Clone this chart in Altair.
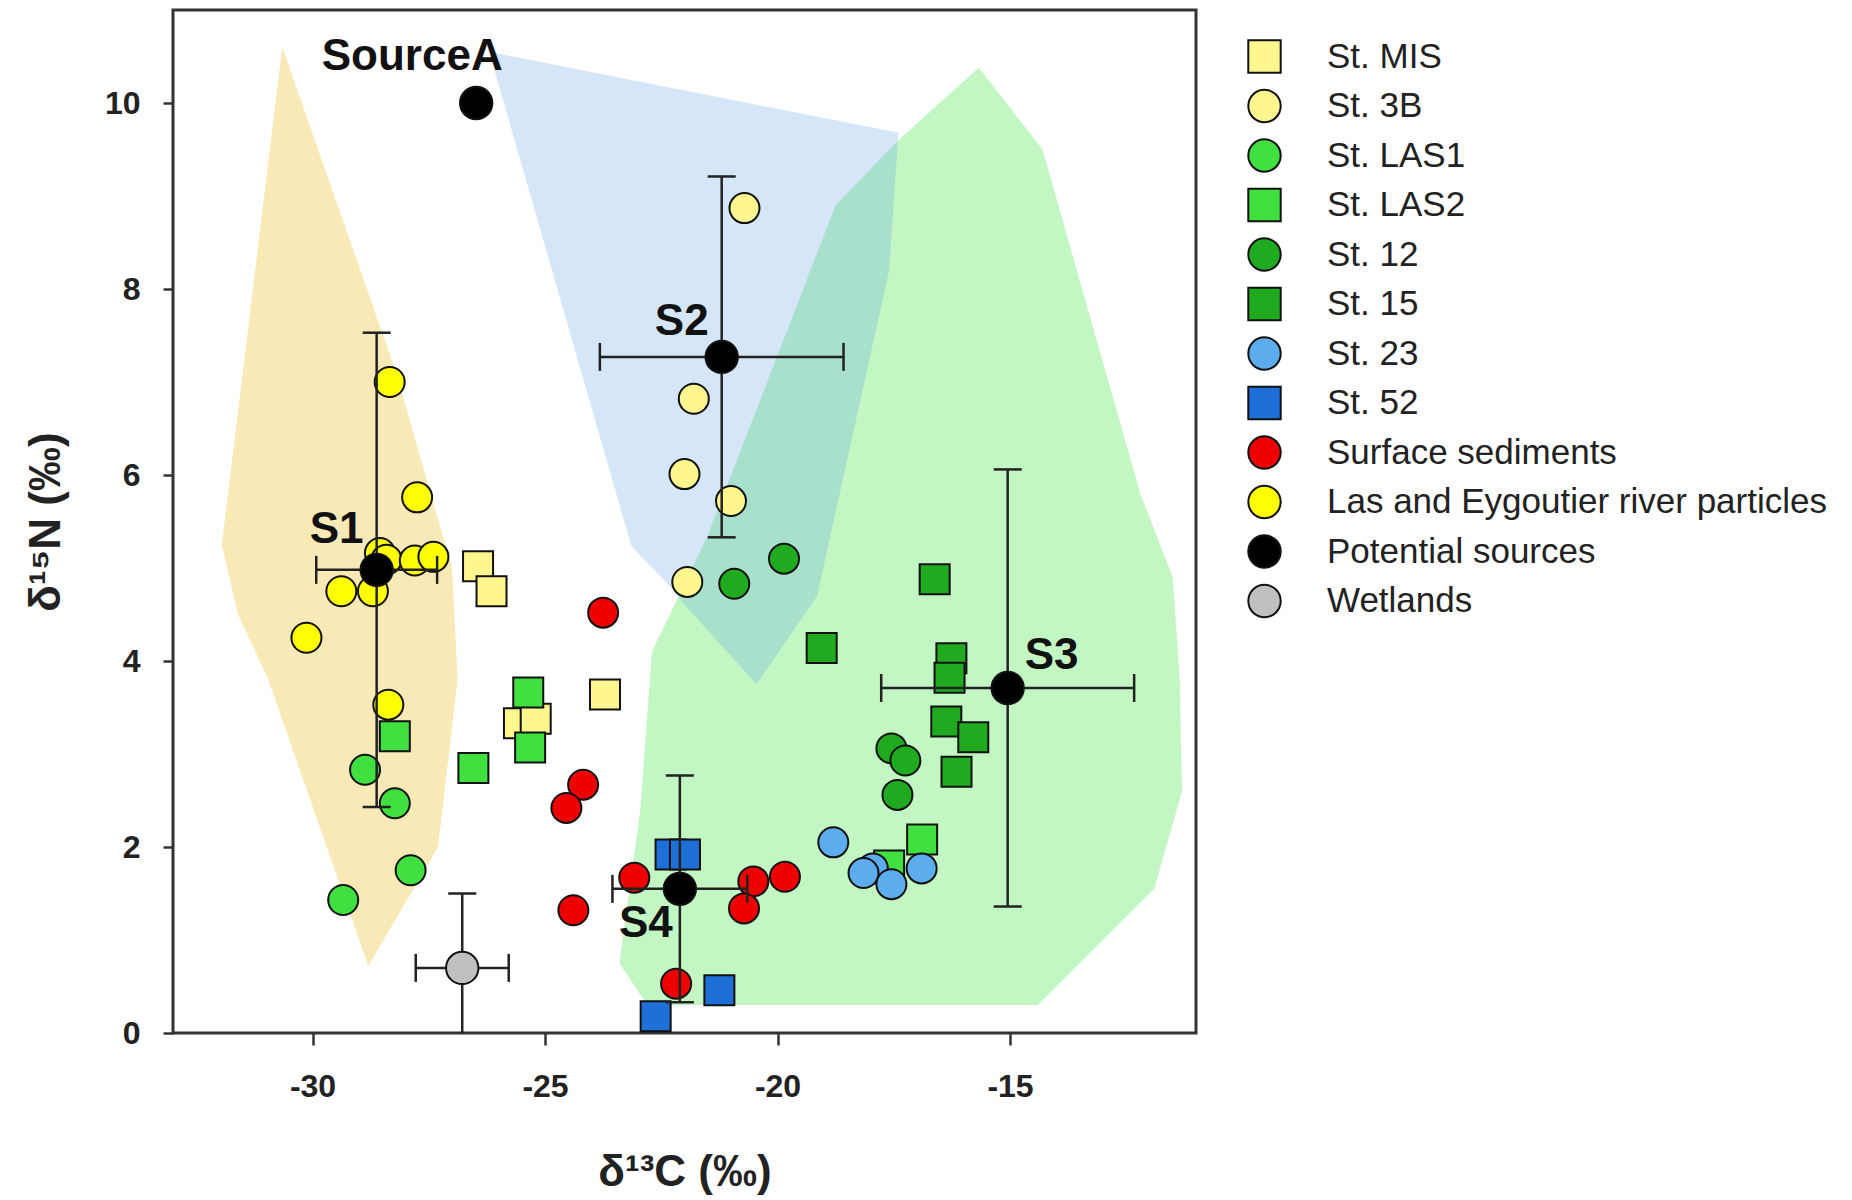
import altair as alt
import pandas as pd

FONT = "Liberation Sans"

# ---------------- legend / series definitions ----------------
series_names = ["St. MIS", "St. 3B", "St. LAS1", "St. LAS2", "St. 12", "St. 15",
                "St. 23", "St. 52", "Surface sediments",
                "Las and Eygoutier river particles", "Potential sources", "Wetlands"]
series_fill = ["#FFF68F", "#FFF68F", "#3FE03F", "#3FE03F", "#1FAA1F", "#1FAA1F",
               "#5DADEE", "#1F6FD8", "#EE0000", "#FFFF00", "#000000", "#C0C0C0"]
series_shape = ["square", "circle", "circle", "square", "circle", "square",
                "circle", "square", "circle", "circle", "circle", "circle"]
series_stroke = ["#111111"] * len(series_names)

# ---------------- sample data (d13C, d15N) ----------------
mis_x = [-26.44, -26.15, -23.71, -25.56, -25.20]
mis_y = [5.02, 4.75, 3.64, 3.33, 3.38]
st3b_x = [-20.71, -21.80, -22.00, -21.00, -21.94]
st3b_y = [8.87, 6.82, 6.01, 5.72, 4.85]
las1_x = [-28.87, -28.23, -27.89, -29.34]
las1_y = [2.83, 2.47, 1.75, 1.43]
las2_x = [-28.23, -26.54, -25.36, -25.32, -17.60, -16.89]
las2_y = [3.19, 2.85, 3.66, 3.07, 1.80, 2.08]
st12_x = [-19.86, -20.93, -17.55, -17.25, -17.42]
st12_y = [5.10, 4.83, 3.06, 2.93, 2.56]
st15_x = [-16.62, -19.05, -16.26, -16.30, -16.37, -15.79, -16.15]
st15_y = [4.88, 4.14, 4.03, 3.82, 3.35, 3.18, 2.81]
st23_x = [-18.80, -17.95, -18.15, -17.55, -16.90]
st23_y = [2.05, 1.77, 1.72, 1.60, 1.77]
st52_x = [-22.30, -21.99, -21.25, -22.62]
st52_y = [1.92, 1.92, 0.46, 0.18]
sed_x = [-23.75, -24.18, -24.54, -24.39, -23.08, -22.18, -20.52, -19.84, -20.72]
sed_y = [4.52, 2.67, 2.42, 1.32, 1.67, 0.53, 1.63, 1.68, 1.34]
riv_x = [-28.34, -27.75, -28.55, -28.41, -27.80, -27.40, -29.38, -28.70, -30.13, -28.37]
riv_y = [7.00, 5.76, 5.16, 5.09, 5.08, 5.12, 4.75, 4.75, 4.25, 3.53]

# potential sources (mean +/- sd)
src_names = ["SourceA", "S1", "S2", "S3", "S4"]
src_x = [-26.48, -28.62, -21.20, -15.05, -22.10]
src_y = [10.00, 4.98, 7.27, 3.71, 1.55]
src_ex = [0.0, 1.30, 2.62, 2.72, 1.45]
src_ey = [0.0, 2.55, 1.94, 2.35, 1.22]
# wetlands
wet_x = [-26.78]
wet_y = [0.70]
wet_ex = [1.00]
wet_ey = [0.80]

# hull polygons
yellow_hull_x = [-30.65, -28.20, -27.00, -26.88, -27.30, -28.80, -30.95, -31.60, -31.95]
yellow_hull_y = [10.60, 7.10, 5.00, 3.80, 2.00, 0.72, 3.80, 4.50, 5.25]
blue_hull_x = [-26.20, -17.40, -17.60, -19.15, -20.45, -21.90, -22.40, -23.14]
blue_hull_y = [10.55, 9.68, 8.20, 4.70, 3.75, 4.55, 4.85, 5.23]
green_hull_x = [-15.67, -14.30, -12.20, -11.50, -11.35, -11.30, -11.90, -14.40,
                -22.80, -23.40, -22.95, -22.70, -21.50, -18.75, -17.40]
green_hull_y = [10.38, 9.50, 5.80, 4.90, 3.80, 2.60, 1.55, 0.30,
                0.30, 0.75, 2.40, 4.10, 5.35, 8.90, 9.60]

x_ticks = [-30, -25, -20, -15]
y_ticks = [0, 2, 4, 6, 8, 10]

# ---------------- tables ----------------
sample_sets = [("St. MIS", mis_x, mis_y), ("St. 3B", st3b_x, st3b_y),
               ("St. LAS1", las1_x, las1_y), ("St. LAS2", las2_x, las2_y),
               ("St. 12", st12_x, st12_y), ("St. 15", st15_x, st15_y),
               ("St. 23", st23_x, st23_y), ("St. 52", st52_x, st52_y),
               ("Surface sediments", sed_x, sed_y),
               ("Las and Eygoutier river particles", riv_x, riv_y)]
rows = []
for name, xs, ys in sample_sets:
    for a, b in zip(xs, ys):
        rows.append({"series": name, "x": a, "y": b})
pts_df = pd.DataFrame(rows)

src_rows = [{"name": n, "series": "Potential sources", "x": a, "y": b, "ex": c, "ey": d}
            for n, a, b, c, d in zip(src_names, src_x, src_y, src_ex, src_ey)]
wet_rows = [{"name": "", "series": "Wetlands", "x": a, "y": b, "ex": c, "ey": d}
            for a, b, c, d in zip(wet_x, wet_y, wet_ex, wet_ey)]
mean_df = pd.DataFrame(src_rows + wet_rows)
src_df = pd.DataFrame(src_rows)

hull_rows = []
for g, xs, ys in [("yellow", yellow_hull_x, yellow_hull_y),
                  ("blue", blue_hull_x, blue_hull_y),
                  ("green", green_hull_x, green_hull_y)]:
    for i, (a, b) in enumerate(zip(xs, ys)):
        hull_rows.append({"group": g, "idx": i, "x": a, "y": b})
hull_df = pd.DataFrame(hull_rows)

# ---------------- scales ----------------
xs_ = alt.Scale(domain=[-33, -11], nice=False, zero=False)
ys_ = alt.Scale(domain=[0, 11], nice=False, zero=False)

x_axis = alt.Axis(values=x_ticks, title="δ¹³C (‰)", labelExpr="datum.value + ''",
                  tickSize=12, tickWidth=2.5, tickColor="#333", labelPadding=26,
                  titlePadding=48)
y_axis = alt.Axis(values=y_ticks, title="δ¹⁵N (‰)", labelExpr="datum.value + ''",
                  tickSize=10, tickWidth=2.5, tickColor="#333", labelPadding=23,
                  titlePadding=36)

X = alt.X("x:Q", scale=xs_, axis=x_axis)
Y = alt.Y("y:Q", scale=ys_, axis=y_axis)

fill_scale = alt.Scale(domain=series_names, range=series_fill)
shape_scale = alt.Scale(domain=series_names, range=series_shape)
stroke_scale = alt.Scale(domain=series_names, range=series_stroke)
leg = alt.Legend(title=None, orient="none", legendX=1074, legendY=29, padding=0,
                 labelFont=FONT, labelFontSize=35, labelColor="#222", labelLimit=0,
                 labelOffset=45, symbolSize=1050, symbolStrokeColor="#111",
                 symbolStrokeWidth=2, rowPadding=8.5, symbolOpacity=1)

base_h = alt.Chart(hull_df)
green_hull = base_h.transform_filter(alt.datum.group == "green").mark_line(
    interpolate="linear-closed", fill="#C2F6C2", strokeOpacity=0).encode(
    x=X, y=Y, order="idx:Q")
yellow_hull = base_h.transform_filter(alt.datum.group == "yellow").mark_line(
    interpolate="linear-closed", fill="#F8E9B6", strokeOpacity=0).encode(
    x=X, y=Y, order="idx:Q")
blue_hull = base_h.transform_filter(alt.datum.group == "blue").mark_line(
    interpolate="linear-closed", fill="#70ACE4", fillOpacity=0.3, strokeOpacity=0).encode(
    x=X, y=Y, order="idx:Q")


def point_enc(ch):
    return ch.encode(
        x=X, y=Y,
        fill=alt.Fill("series:N", scale=fill_scale, legend=leg),
        shape=alt.Shape("series:N", scale=shape_scale, legend=leg),
        stroke=alt.Stroke("series:N", scale=stroke_scale, legend=leg),
        strokeWidth=alt.value(2))


samples = point_enc(alt.Chart(pts_df).mark_point(filled=True, size=900, opacity=1))

err_base = alt.Chart(mean_df).transform_filter(alt.datum.ex > 0).transform_calculate(
    xlo="datum.x - datum.ex", xhi="datum.x + datum.ex",
    ylo="datum.y - datum.ey", yhi="datum.y + datum.ey")
vrule = err_base.mark_rule(color="#222", strokeWidth=2.5, clip=True).encode(
    x=X, y=alt.Y("ylo:Q", scale=ys_), y2="yhi:Q")
hrule = err_base.mark_rule(color="#222", strokeWidth=2.5, clip=True).encode(
    y=Y, x=alt.X("xlo:Q", scale=xs_), x2="xhi:Q")
cap_lo = err_base.mark_tick(orient="horizontal", size=28, thickness=2.5, color="#222",
                            clip=True, opacity=1).encode(
    x=X, y=alt.Y("ylo:Q", scale=ys_))
cap_hi = err_base.mark_tick(orient="horizontal", size=28, thickness=2.5, color="#222",
                            clip=True, opacity=1).encode(
    x=X, y=alt.Y("yhi:Q", scale=ys_))
cap_l = err_base.mark_tick(orient="vertical", size=28, thickness=2.5, color="#222",
                           clip=True, opacity=1).encode(
    x=alt.X("xlo:Q", scale=xs_), y=Y)
cap_r = err_base.mark_tick(orient="vertical", size=28, thickness=2.5, color="#222",
                           clip=True, opacity=1).encode(
    x=alt.X("xhi:Q", scale=xs_), y=Y)

means = point_enc(alt.Chart(mean_df).mark_point(filled=True, size=1050, opacity=1))

label_offsets = {"SourceA": (-64, -46), "S1": (-40, -40), "S2": (-40, -35),
                 "S3": (44, -32), "S4": (-34, 35)}
labels = []
for n in src_names:
    dx, dy = label_offsets[n]
    labels.append(alt.Chart(src_df).transform_filter(alt.datum.name == n).mark_text(
        font=FONT, fontSize=44, fontWeight="bold", color="#111", align="center",
        baseline="middle", dx=dx, dy=dy).encode(x=X, y=Y, text="name:N"))

chart = alt.layer(green_hull, yellow_hull, blue_hull, samples, vrule, hrule,
                  cap_lo, cap_hi, cap_l, cap_r, means, *labels).properties(
    width=1023, height=1023,
    autosize=alt.AutoSizeParams(type="none"),
    padding={"left": 173, "top": 10, "right": 656, "bottom": 167},
    background="white",
).configure_view(stroke="#333", strokeWidth=3).configure_axis(
    grid=False, domain=False, labelFont=FONT, labelFontSize=32, labelFontWeight="bold",
    labelColor="#222", titleFont=FONT, titleFontSize=44, titleFontWeight="bold",
    titleColor="#222")

chart.save("out.html", embed_options={"renderer": "svg", "actions": False})
